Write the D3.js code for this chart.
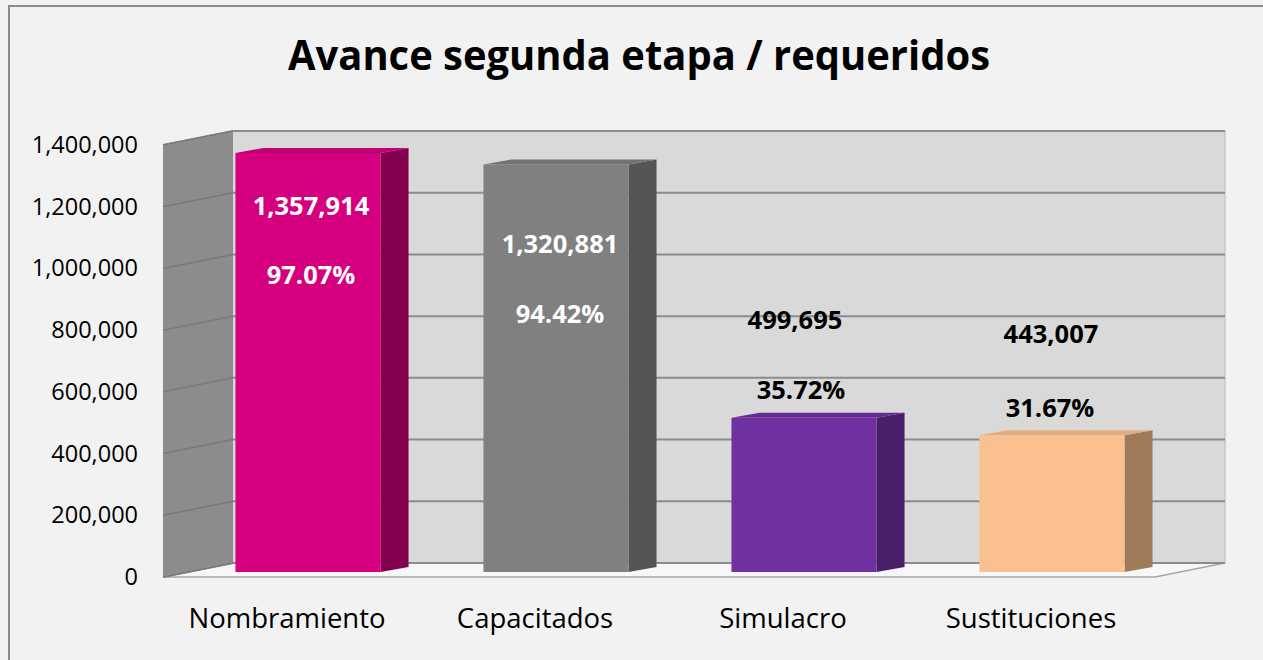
<!DOCTYPE html>
<html>
<head>
<meta charset="utf-8">
<script src="https://cdn.jsdelivr.net/npm/d3@7"></script>
<style>
  html, body { margin: 0; background: #f2f2f2; overflow: hidden; }
  svg { display: block; }
  text { font-family: "Open Sans", sans-serif; }
</style>
</head>
<body>
<script>
var categories = ["Nombramiento", "Capacitados", "Simulacro", "Sustituciones"];
var values = [1357914, 1320881, 499695, 443007];
var percents = ["97.07%", "94.42%", "35.72%", "31.67%"];
var tickValues = [0, 200000, 400000, 600000, 800000, 1000000, 1200000, 1400000];

var frontColors = ["#d5007f", "#808080", "#7030a0", "#fac090"];
var sideColors  = ["#82004d", "#555555", "#4a1f6a", "#a07b5a"];
var labelColors = ["#ffffff", "#ffffff", "#000000", "#000000"];
// label offsets (px) from the bar top, value label then percent label
var labelDy = [[53, 122], [80, 150], [-98, -28], [-101, -27]];
var labelDx = [[3, 3], [4, 4], [-9, -3], [-1, -2]];

var width = 1263, height = 660;

var svg = d3.select("body")
            .append("svg")
            .attr("width", width)
            .attr("height", height);

svg.append("rect")
   .attr("width", width).attr("height", height)
   .attr("fill", "#f2f2f2");

// chart border (only left and top edges fall inside the picture)
svg.append("path")
   .attr("d", "M9," + height + "V6H" + width)
   .attr("fill", "none")
   .attr("stroke", "#8c8c8c")
   .attr("stroke-width", 2);

var x0 = 163, x1 = 1155;
var depthX = 70, depthY = -14;   // floor / wall depth
var barOffX = 21, barOffY = -5;  // bar front face from the front plane
var barDX = 28, barDY = -5;      // bar depth

var x = d3.scaleBand()
          .domain(categories)
          .range([x0, x1])
          .paddingInner(0.415)
          .paddingOuter(0.2075);

var y = d3.scaleLinear()
          .domain([0, 1400000])
          .range([577, 145]);

var yTop = y(1400000), yBottom = y(0);

// side wall
svg.append("polygon")
   .attr("points", [[x0, yTop], [x0 + depthX, yTop + depthY], [x0 + depthX, yBottom + depthY], [x0, yBottom]].join(" "))
   .attr("fill", "#8c8c8c");

// back wall
svg.append("rect")
   .attr("x", x0 + depthX).attr("y", yTop + depthY)
   .attr("width", x1 - x0)
   .attr("height", yBottom - yTop)
   .attr("fill", "#d9d9d9");

// floor
svg.append("polygon")
   .attr("points", [[x0, yBottom], [x1, yBottom], [x1 + depthX, yBottom + depthY], [x0 + depthX, yBottom + depthY]].join(" "))
   .attr("fill", "#f7f7f7")
   .attr("stroke", "#a6a6a6")
   .attr("stroke-width", 1.5);

// right edge of back wall
svg.append("line")
   .attr("x1", x1 + depthX).attr("x2", x1 + depthX)
   .attr("y1", yTop + depthY).attr("y2", yBottom + depthY)
   .attr("stroke", "#c8c8c8").attr("stroke-width", 1.5);

// gridlines on side and back wall
svg.append("g").selectAll("path")
   .data(tickValues)
   .enter().append("path")
   .attr("d", function(d) {
     var yy = y(d);
     return "M" + x0 + "," + yy + "L" + (x0 + depthX) + "," + (yy + depthY) + "L" + (x1 + depthX) + "," + (yy + depthY);
   })
   .attr("fill", "none")
   .attr("stroke", "#8c8c8c")
   .attr("stroke-width", 2);

// darker grid segments across the side wall
svg.append("g").selectAll("line")
   .data(tickValues)
   .enter().append("line")
   .attr("x1", x0).attr("x2", x0 + depthX)
   .attr("y1", function(d) { return y(d); })
   .attr("y2", function(d) { return y(d) + depthY; })
   .attr("stroke", "#7a7a7a")
   .attr("stroke-width", 1.5);

// bars
var bars = svg.append("g").selectAll("g")
              .data(values)
              .enter().append("g");

bars.append("polygon") // side face
    .attr("points", function(d, i) {
      var bx = x(categories[i]) + barOffX + x.bandwidth(), ty = y(d) + barOffY, by = yBottom + barOffY;
      return [[bx, ty], [bx + barDX, ty + barDY], [bx + barDX, by + barDY], [bx, by]].join(" ");
    })
    .attr("fill", function(d, i) { return sideColors[i]; });

bars.append("polygon") // top face
    .attr("points", function(d, i) {
      var bx = x(categories[i]) + barOffX, ty = y(d) + barOffY, w = x.bandwidth();
      return [[bx, ty], [bx + barDX, ty + barDY], [bx + w + barDX, ty + barDY], [bx + w, ty]].join(" ");
    })
    .attr("fill", function(d, i) { return d3.color(frontColors[i]).darker(0.3); });

bars.append("rect") // front face
    .attr("x", function(d, i) { return x(categories[i]) + barOffX; })
    .attr("y", function(d) { return y(d) + barOffY; })
    .attr("width", x.bandwidth())
    .attr("height", function(d) { return yBottom - y(d); })
    .attr("fill", function(d, i) { return frontColors[i]; });

// value labels
var fmt = d3.format(",");
bars.append("text")
    .attr("x", function(d, i) { return x(categories[i]) + barOffX + x.bandwidth() / 2 + labelDx[i][0]; })
    .attr("y", function(d, i) { return y(d) + barOffY + labelDy[i][0]; })
    .attr("dy", "0.35em")
    .attr("text-anchor", "middle")
    .attr("font-size", 25.5).attr("font-weight", "bold")
    .attr("fill", function(d, i) { return labelColors[i]; })
    .text(function(d) { return fmt(d); });

bars.append("text")
    .attr("x", function(d, i) { return x(categories[i]) + barOffX + x.bandwidth() / 2 + labelDx[i][1]; })
    .attr("y", function(d, i) { return y(d) + barOffY + labelDy[i][1]; })
    .attr("dy", "0.35em")
    .attr("text-anchor", "middle")
    .attr("font-size", 25.5).attr("font-weight", "bold")
    .attr("fill", function(d, i) { return labelColors[i]; })
    .text(function(d, i) { return percents[i]; });

// y axis
var yAxis = svg.append("g")
   .attr("transform", "translate(" + (x0 - 25) + ",0)")
   .call(d3.axisLeft(y).tickValues(tickValues).tickFormat(fmt).tickSize(0).tickPadding(0));
yAxis.select(".domain").remove();
yAxis.selectAll("text")
     .attr("font-size", 23.5)
     .attr("font-family", "'Open Sans', sans-serif")
     .attr("fill", "#000");

// x axis labels
var xAxis = svg.append("g")
   .attr("transform", "translate(0," + (yBottom + 31) + ")")
   .call(d3.axisBottom(x).tickSize(0).tickPadding(0));
xAxis.select(".domain").remove();
xAxis.selectAll("text")
     .attr("font-size", 27.5)
     .attr("font-family", "'Open Sans', sans-serif")
     .attr("fill", "#000");

// title
svg.append("text")
   .attr("x", 639)
   .attr("y", 70)
   .attr("text-anchor", "middle")
   .attr("font-size", 41)
   .attr("font-weight", "bold")
   .attr("textLength", 702)
   .attr("lengthAdjust", "spacingAndGlyphs")
   .text("Avance segunda etapa / requeridos");
</script>
</body>
</html>
